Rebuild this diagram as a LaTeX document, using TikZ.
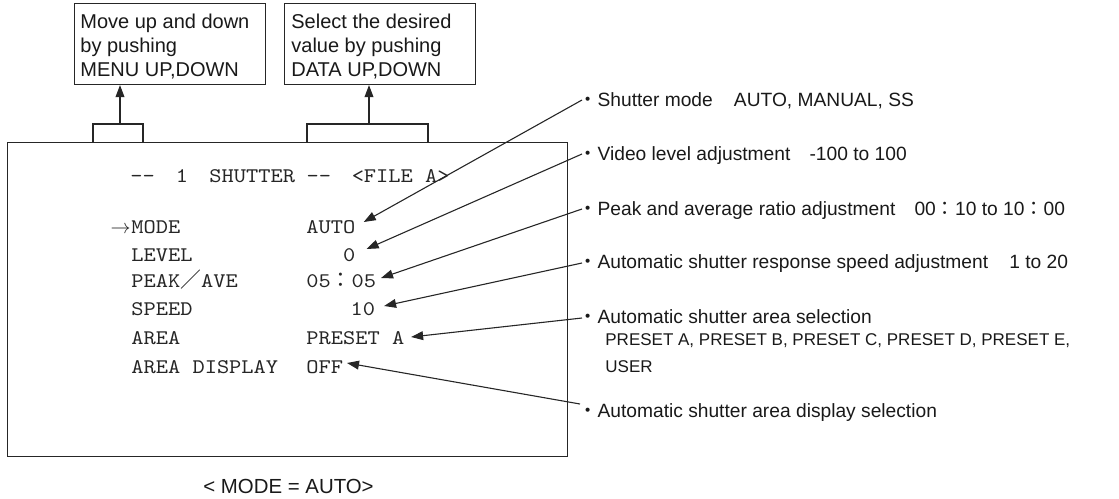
\documentclass[tikz,border=0pt]{standalone}
\usepackage{fontspec}
\setmainfont{Liberation Sans}
\newfontfamily\cjk{Noto Sans CJK JP}
\newfontfamily\crt{Latin Modern Mono}[FakeStretch=1.12]
\usetikzlibrary{arrows.meta,calc}
\begin{document}
\begin{tikzpicture}[x=0.5pt,y=-0.5pt,
  ln/.style={line width=0.55pt, draw=black!85},
  arr/.style={ln, -{Triangle[length=6pt,width=4.4pt]}},
  framebox/.style={ln, inner sep=0, anchor=north west},
  boxtext/.style={font=\fontsize{10pt}{12pt}\selectfont, align=left, inner sep=0, anchor=north west, text=black!90},
  mono/.style={font=\crt\fontsize{10.4pt}{12pt}\selectfont, inner sep=0, anchor=base west, text=black!85},
  lab/.style={font=\fontsize{9.6pt}{11pt}\selectfont, inner sep=0, anchor=base west, text=black!90},
  sublab/.style={font=\fontsize{8.5pt}{10pt}\selectfont, inner sep=0, anchor=base west, text=black!90}]
\useasboundingbox (0,0) rectangle (1119,498);

% callout boxes
\node[framebox, minimum width=95.5pt, minimum height=40.5pt] (b1) at (74,3) {};
\node[boxtext] (b1t) at (80,13.5) {Move up and down\\by pushing\\MENU UP,DOWN};
\node[framebox, minimum width=95.5pt, minimum height=40.5pt] (b2) at (284,3) {};
\node[boxtext] (b2t) at (291,13.5) {Select the desired\\value by pushing\\DATA UP,DOWN};

% screen
\node[framebox, minimum width=280pt, minimum height=157pt] (screen) at (7,142) {};

% brackets
\draw[ln] (93,142) -- (93,124) -- (143,124) -- (143,142);
\draw[ln] (307,142) -- (307,124) -- (428,124) -- (428,142);
\coordinate (k1) at (120,124);
\coordinate (k2) at (369,124);
\draw[arr] (k1) -- (k1 |- b1.south);
\draw[arr] (k2) -- (k2 |- b2.south);

% screen contents
\node[mono] (head) at (130,182) {--\hspace{10.55pt}1\hspace{10.65pt}SHUTTER\hspace{5.8pt}--\hspace{10.3pt}<FILE A>};
\node[mono, anchor=base east] (cur) at (131,233) {$\rightarrow$};
\node[mono] (kMode) at (131,233) {MODE};
\node[mono] (kLevel) at (131,261) {LEVEL};
\node[mono] (kPeak) at (131,287) {PEAK{\cjk ／}AVE};
\node[mono] (kSpeed) at (131,315) {SPEED};
\node[mono] (kArea) at (131,344) {AREA};
\node[mono] (kDisp) at (131,373) {AREA DISPLAY};

\node[mono] (vAuto) at (306,233) {AUTO};
\node[mono] (vLevel) at (342.6,261) {0};
\node[mono] (vPeak) at (306,287) {05{\cjk ：}05};
\node[mono, anchor=base east] (vSpeed) at (375.6,315) {10};
\node[mono] (vArea) at (306,344) {PRESET A};
\node[mono] (vOff) at (306,373) {OFF};

% right labels
\node[lab] (l1) at (578,106) {{\cjk ・}Shutter mode\hspace{1.1em}AUTO, MANUAL, SS};
\node[lab] (l2) at (578,160) {{\cjk ・}Video level adjustment\hspace{1em}-100 to 100};
\node[lab] (l3) at (578,215) {{\cjk ・}Peak and average ratio adjustment\hspace{1em}00{\cjk ：}10 to 10{\cjk ：}00};
\node[lab] (l4) at (578,268) {{\cjk ・}Automatic shutter response speed adjustment\hspace{1.1em}1 to 20};
\node[lab] (l5) at (578,323) {{\cjk ・}Automatic shutter area selection};
\node[sublab] (l5b) at (605,345) {PRESET A, PRESET B, PRESET C, PRESET D, PRESET E,};
\node[sublab] (l5c) at (605,372) {USER};
\node[lab] (l6) at (578,417) {{\cjk ・}Automatic shutter area display selection};

% connectors
\draw[arr] ($(l1.base west)+(4,-6)$) -- ($(vAuto.base east)+(8,-11)$);
\draw[arr] ($(l2.base west)+(4,-6)$) -- ($(vLevel.base east)+(11,-12)$);
\draw[arr] ($(l3.base west)+(4,-6)$) -- ($(vPeak.base east)+(4.5,-9)$);
\draw[arr] ($(l4.base west)+(4,-5)$) -- ($(vSpeed.base east)+(8.5,-9)$);
\draw[arr] ($(l5.base west)+(4,-5)$) -- ($(vArea.base east)+(6.5,-7)$);
\draw[arr] ($(l6.base west)+(2,-13)$) -- ($(vOff.base east)+(3.5,-10)$);

% caption
\node[lab, font=\fontsize{10.2pt}{12pt}\selectfont] (cap) at (203,493) {< MODE = AUTO>};
\end{tikzpicture}
\end{document}
